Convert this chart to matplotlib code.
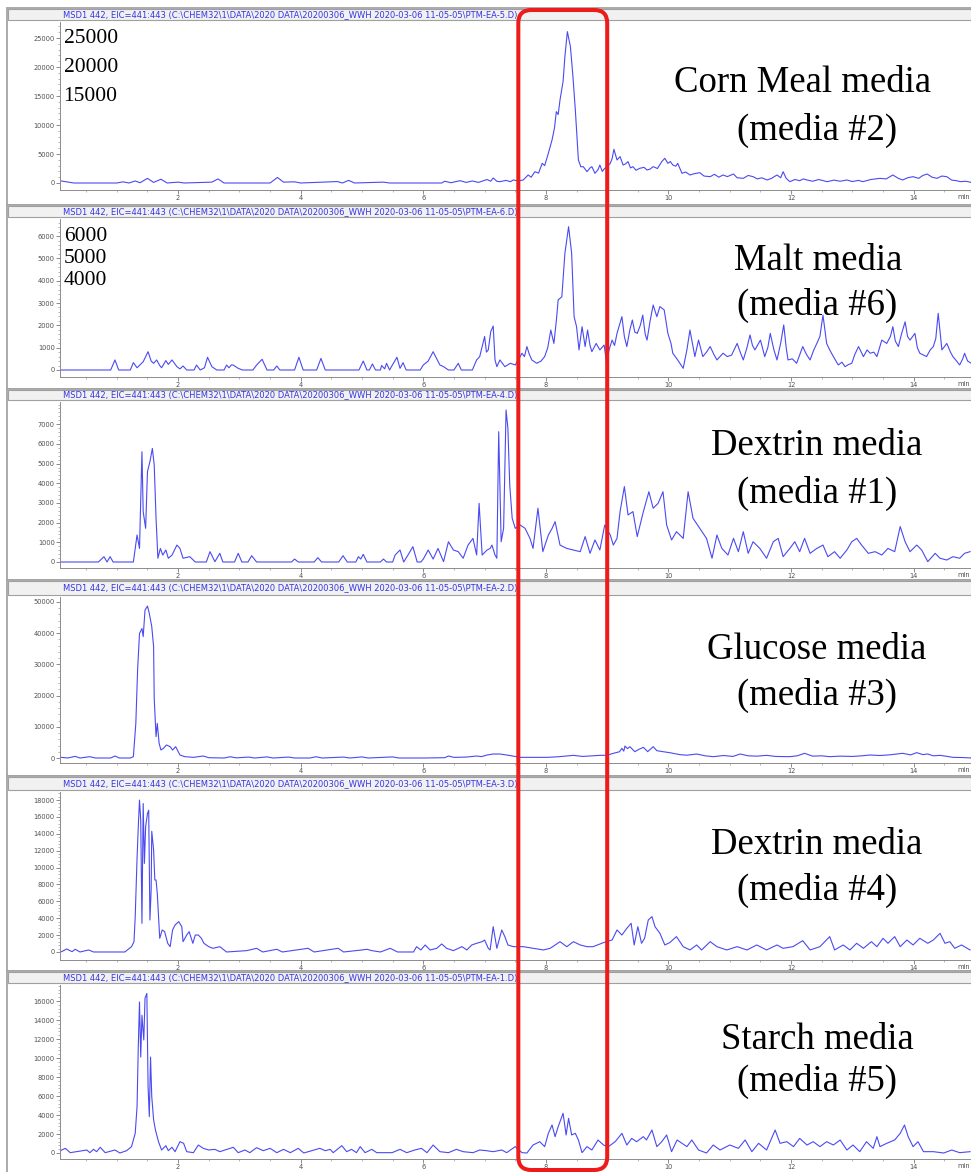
import numpy as np
import matplotlib
matplotlib.use("Agg")
import matplotlib.pyplot as plt
from matplotlib.patches import Rectangle, FancyBboxPatch
from matplotlib.transforms import blended_transform_factory, IdentityTransform

W, H = 971, 1172

# extracted ion chromatograms, (retention time [min], abundance)
corn_meal = [
    (0.07, 400), (0.15, 250), (0.3, 0), (1.0, 0), (1.1, 200), (1.2, 0), (1.3, 350), (1.38, 50),
    (1.5, 800), (1.6, 100), (1.72, 650), (1.82, 0), (2.0, 150), (2.1, 0), (2.55, 150), (2.65, 700),
    (2.75, 0), (3.5, 0), (3.62, 950), (3.72, 150), (3.9, 200), (4.0, 0), (4.6, 250), (4.68, 0),
    (4.78, 450), (4.88, 0), (5.35, 150), (5.45, 0), (6.3, 0), (6.35, 300), (6.45, 50), (6.6, 400),
    (6.7, 100), (6.8, 350), (6.9, 100), (7.04, 600), (7.1, 300), (7.14, 860), (7.2, 300), (7.25, 230),
    (7.35, 450), (7.42, 230), (7.47, 520), (7.55, 350), (7.63, 520), (7.71, 1380), (7.76, 1000),
    (7.82, 1950), (7.88, 1700), (7.94, 3390), (7.98, 3000), (8.04, 5120), (8.1, 7420), (8.14, 9500),
    (8.17, 12300), (8.2, 11800), (8.23, 14300), (8.28, 17500), (8.31, 21800), (8.35, 26100),
    (8.4, 23500), (8.44, 18500), (8.48, 12600), (8.53, 3970), (8.57, 2800), (8.61, 2820), (8.67, 1950),
    (8.72, 2600), (8.75, 2820), (8.8, 1670), (8.85, 2300), (8.88, 3100), (8.92, 2000), (8.96, 2530),
    (9.0, 2800), (9.05, 3390), (9.08, 4200), (9.11, 5810), (9.16, 3970), (9.21, 4540), (9.26, 3100),
    (9.3, 3300), (9.34, 3680), (9.38, 2600), (9.42, 2820), (9.47, 2200), (9.53, 2530), (9.6, 2700),
    (9.65, 2240), (9.7, 2400), (9.75, 2820), (9.82, 2500), (9.89, 3680), (9.94, 4260), (9.99, 3390),
    (10.03, 3700), (10.07, 3100), (10.12, 2900), (10.15, 3390), (10.22, 1670), (10.28, 1900),
    (10.35, 1380), (10.42, 1600), (10.51, 1780), (10.58, 1200), (10.68, 1090), (10.75, 1500),
    (10.82, 1000), (10.89, 1380), (10.96, 1100), (11.06, 1550), (11.12, 900), (11.22, 805),
    (11.3, 1300), (11.38, 1090), (11.45, 700), (11.52, 900), (11.61, 520), (11.68, 800), (11.77, 1380),
    (11.83, 900), (11.87, 1950), (11.92, 800), (11.98, 230), (12.06, 600), (12.14, 400), (12.2, 700),
    (12.26, 520), (12.35, 300), (12.45, 600), (12.59, 230), (12.7, 500), (12.8, 300), (12.91, 520),
    (13.0, 250), (13.1, 450), (13.17, 230), (13.3, 600), (13.45, 805), (13.55, 700), (13.66, 1380),
    (13.75, 800), (13.82, 520), (13.9, 900), (13.99, 1090), (14.08, 800), (14.15, 1300), (14.22, 1550),
    (14.3, 1000), (14.38, 805), (14.46, 1200), (14.54, 1090), (14.62, 500), (14.7, 400), (14.76, 230),
    (14.85, 300), (14.94, 100),
]

malt = [
    (0.07, 0), (0.9, 0), (0.97, 450), (1.03, 0), (1.22, 0), (1.27, 330), (1.33, 100), (1.43, 370),
    (1.51, 820), (1.56, 400), (1.6, 300), (1.65, 450), (1.7, 200), (1.73, 100), (1.8, 420), (1.84, 250),
    (1.9, 450), (1.98, 150), (2.03, 50), (2.08, 180), (2.14, 0), (2.26, 0), (2.3, 220), (2.36, 0),
    (2.43, 100), (2.48, 570), (2.55, 150), (2.63, 0), (2.75, 0), (2.79, 220), (2.83, 100), (2.87, 230),
    (2.9, 220), (2.98, 75), (3.05, 0), (3.22, 0), (3.28, 220), (3.37, 480), (3.45, 0), (3.56, 0),
    (3.61, 180), (3.66, 0), (3.9, 0), (3.97, 570), (4.04, 0), (4.26, 0), (4.33, 520), (4.4, 0),
    (4.95, 0), (5.02, 400), (5.08, 0), (5.12, 0), (5.17, 270), (5.22, 0), (5.3, 0), (5.32, 200),
    (5.37, 50), (5.4, 300), (5.45, 0), (5.48, 150), (5.57, 570), (5.62, 75), (5.67, 330), (5.72, 0),
    (5.95, 0), (6.0, 225), (6.08, 400), (6.16, 820), (6.22, 500), (6.27, 225), (6.33, 150), (6.41, 0),
    (6.5, 0), (6.57, 300), (6.62, 0), (6.8, 0), (6.87, 450), (6.92, 600), (7.0, 1500), (7.03, 800),
    (7.06, 900), (7.1, 1720), (7.14, 1970), (7.17, 450), (7.2, 150), (7.25, 450), (7.33, 150),
    (7.42, 300), (7.5, 225), (7.56, 500), (7.61, 750), (7.65, 600), (7.69, 1050), (7.73, 700),
    (7.77, 450), (7.85, 300), (7.92, 400), (7.98, 600), (8.03, 1000), (8.08, 1790), (8.13, 1190),
    (8.17, 2200), (8.2, 3140), (8.26, 3280), (8.31, 5230), (8.37, 6420), (8.42, 5230), (8.46, 2390),
    (8.5, 1940), (8.54, 900), (8.59, 1940), (8.64, 1050), (8.68, 1790), (8.72, 1100), (8.75, 820),
    (8.82, 1190), (8.88, 900), (8.95, 1120), (8.99, 300), (9.03, 900), (9.08, 1340), (9.12, 1100),
    (9.16, 1640), (9.24, 2390), (9.28, 1500), (9.32, 1050), (9.37, 1800), (9.41, 2240), (9.45, 1700),
    (9.49, 1640), (9.54, 2000), (9.58, 2460), (9.62, 1600), (9.65, 1340), (9.7, 2200), (9.75, 2910),
    (9.81, 2390), (9.86, 2840), (9.93, 2690), (9.99, 1640), (10.04, 1200), (10.07, 750), (10.15, 450),
    (10.24, 75), (10.3, 900), (10.35, 1790), (10.43, 600), (10.49, 1340), (10.56, 600), (10.62, 800),
    (10.68, 1050), (10.74, 700), (10.79, 450), (10.89, 750), (10.96, 600), (11.03, 670), (11.12, 1190),
    (11.17, 800), (11.22, 450), (11.28, 1000), (11.33, 1570), (11.37, 1100), (11.41, 900), (11.5, 1340),
    (11.57, 600), (11.62, 1000), (11.66, 1640), (11.72, 900), (11.77, 450), (11.83, 1200), (11.88, 2020),
    (11.92, 1000), (11.95, 450), (12.02, 500), (12.09, 300), (12.19, 1050), (12.25, 700), (12.31, 450),
    (12.37, 900), (12.42, 1190), (12.47, 1500), (12.52, 2460), (12.58, 1190), (12.63, 900), (12.69, 600),
    (12.77, 225), (12.83, 350), (12.88, 150), (12.94, 250), (12.99, 300), (13.04, 700), (13.1, 1050),
    (13.18, 600), (13.24, 900), (13.29, 750), (13.35, 800), (13.4, 600), (13.48, 1340), (13.56, 1190),
    (13.62, 1500), (13.66, 1940), (13.7, 1300), (13.75, 1050), (13.8, 1600), (13.86, 2160), (13.9, 1500),
    (13.94, 1340), (14.02, 1640), (14.06, 1000), (14.1, 750), (14.21, 600), (14.27, 900), (14.32, 1050),
    (14.36, 1400), (14.4, 2540), (14.46, 900), (14.54, 1190), (14.6, 800), (14.64, 600), (14.7, 400),
    (14.75, 225), (14.8, 500), (14.83, 750), (14.88, 400), (14.94, 300),
]

dextrin_1 = [
    (0.07, 0), (0.7, 0), (0.79, 270), (0.84, 0), (0.89, 270), (0.94, 0), (1.27, 0), (1.33, 1370),
    (1.37, 690), (1.41, 5600), (1.43, 2560), (1.47, 1710), (1.5, 4590), (1.54, 5100), (1.58, 5770),
    (1.61, 4930), (1.64, 2220), (1.67, 190), (1.71, 690), (1.75, 350), (1.8, 610), (1.84, 190),
    (1.9, 350), (1.98, 860), (2.03, 690), (2.08, 190), (2.19, 270), (2.28, 0), (2.46, 0), (2.52, 525),
    (2.6, 17), (2.68, 440), (2.73, 0), (2.92, 0), (2.98, 440), (3.04, 0), (3.14, 0), (3.2, 320),
    (3.28, 0), (3.85, 0), (3.9, 150), (3.96, 0), (4.22, 0), (4.28, 220), (4.34, 0), (4.62, 0),
    (4.69, 320), (4.76, 0), (4.9, 0), (4.94, 270), (4.98, 150), (5.02, 390), (5.08, 0), (5.3, 0),
    (5.35, 150), (5.4, 0), (5.5, 0), (5.54, 355), (5.62, 610), (5.68, 0), (5.75, 355), (5.83, 780),
    (5.9, 0), (5.96, 0), (6.0, 150), (6.08, 610), (6.16, 150), (6.24, 690), (6.33, 17), (6.41, 1030),
    (6.49, 610), (6.57, 525), (6.65, 190), (6.73, 860), (6.81, 1200), (6.87, 355), (6.91, 2980),
    (6.96, 355), (7.04, 610), (7.09, 690), (7.12, 860), (7.17, 355), (7.2, 190), (7.23, 6620),
    (7.27, 1030), (7.31, 1710), (7.35, 7720), (7.38, 6790), (7.41, 3910), (7.45, 2220), (7.5, 1710),
    (7.58, 1880), (7.66, 1710), (7.74, 1200), (7.79, 690), (7.87, 2730), (7.95, 525), (8.04, 1370),
    (8.1, 1700), (8.15, 2050), (8.23, 860), (8.34, 690), (8.45, 610), (8.56, 525), (8.64, 1290),
    (8.72, 440), (8.8, 1120), (8.88, 610), (8.96, 1880), (9.05, 1370), (9.1, 860), (9.16, 1200),
    (9.21, 2560), (9.28, 3830), (9.34, 2390), (9.42, 2560), (9.49, 1290), (9.59, 2560), (9.68, 3570),
    (9.75, 2730), (9.83, 2980), (9.91, 3570), (9.97, 1880), (10.05, 1120), (10.13, 1540), (10.24, 1200),
    (10.32, 3570), (10.4, 2220), (10.51, 1710), (10.62, 1200), (10.71, 190), (10.79, 1370), (10.87, 690),
    (10.97, 355), (11.06, 1200), (11.14, 525), (11.22, 1540), (11.3, 440), (11.38, 1030), (11.49, 690),
    (11.6, 190), (11.71, 1030), (11.79, 1200), (11.87, 270), (11.98, 690), (12.06, 1030), (12.14, 525),
    (12.22, 1200), (12.31, 440), (12.42, 690), (12.52, 860), (12.6, 270), (12.71, 525), (12.8, 190),
    (12.91, 610), (12.99, 1030), (13.07, 1200), (13.15, 860), (13.26, 440), (13.37, 525), (13.48, 355),
    (13.58, 690), (13.69, 525), (13.78, 1800), (13.86, 1030), (13.94, 525), (14.05, 860), (14.13, 610),
    (14.23, 17), (14.35, 440), (14.43, 190), (14.54, 100), (14.64, 270), (14.75, 190), (14.83, 440),
    (14.92, 525),
]

glucose = [
    (0.07, 100), (0.1, 210), (0.2, 0), (0.32, 530), (0.4, 0), (0.56, 430), (0.65, 0), (0.9, 0),
    (0.97, 640), (1.04, 0), (1.22, 0), (1.27, 430), (1.31, 11100), (1.34, 28700), (1.37, 39900),
    (1.41, 41500), (1.43, 38900), (1.46, 47400), (1.5, 48700), (1.53, 46300), (1.57, 42100),
    (1.6, 35700), (1.61, 19100), (1.64, 6840), (1.66, 11100), (1.69, 4700), (1.72, 2560), (1.76, 3100),
    (1.81, 4170), (1.87, 3630), (1.91, 2560), (1.96, 3630), (2.03, 960), (2.11, 430), (2.25, 210),
    (2.41, 640), (2.5, 100), (2.75, 0), (2.85, 400), (2.95, 50), (3.15, 300), (3.25, 0), (3.45, 350),
    (3.55, 0), (3.8, 300), (3.9, 0), (4.15, 0), (4.25, 400), (4.35, 0), (4.7, 300), (4.8, 0),
    (5.0, 350), (5.1, 0), (5.5, 350), (5.6, 0), (6.0, 0), (6.35, 100), (6.41, 640), (6.5, 200),
    (6.7, 300), (6.87, 640), (6.95, 450), (7.04, 960), (7.14, 1280), (7.25, 1280), (7.36, 960),
    (7.47, 600), (7.58, 210), (8.02, 210), (8.2, 400), (8.45, 850), (8.6, 500), (8.88, 850), (9.0, 900),
    (9.1, 1500), (9.2, 2000), (9.24, 3100), (9.27, 2200), (9.29, 3840), (9.33, 3000), (9.37, 3630),
    (9.45, 2030), (9.52, 2800), (9.59, 3420), (9.66, 2030), (9.75, 3630), (9.81, 2350), (9.91, 2030),
    (10.02, 1710), (10.1, 1400), (10.19, 1070), (10.3, 900), (10.46, 1280), (10.6, 700), (10.73, 430),
    (10.9, 800), (11.05, 500), (11.17, 1280), (11.3, 700), (11.45, 600), (11.6, 850), (11.75, 500),
    (11.98, 430), (12.1, 700), (12.22, 1500), (12.35, 600), (12.5, 700), (12.63, 430), (12.8, 600),
    (13.0, 500), (13.15, 700), (13.29, 960), (13.45, 800), (13.6, 1000), (13.82, 1500), (13.95, 1000),
    (14.05, 1710), (14.15, 1100), (14.23, 1280), (14.32, 700), (14.43, 850), (14.55, 500), (14.64, 210),
    (14.8, 150), (14.94, 0),
]

dextrin_4 = [
    (0.07, 40), (0.1, 40), (0.18, 355), (0.27, 40), (0.32, 320), (0.4, 0), (0.54, 240), (0.62, 0),
    (1.13, 0), (1.24, 630), (1.28, 1220), (1.3, 4190), (1.33, 11100), (1.35, 14850), (1.37, 18000),
    (1.39, 15600), (1.41, 3400), (1.43, 17600), (1.45, 10500), (1.47, 14850), (1.5, 16400),
    (1.52, 16800), (1.54, 3790), (1.56, 7350), (1.57, 14300), (1.6, 12100), (1.62, 8530), (1.64, 8530),
    (1.66, 6950), (1.68, 4190), (1.7, 1620), (1.74, 2610), (1.78, 2410), (1.83, 1030), (1.87, 630),
    (1.91, 2610), (1.95, 3200), (2.01, 3600), (2.06, 3000), (2.08, 1220), (2.14, 2010), (2.18, 2410),
    (2.24, 1030), (2.28, 2010), (2.33, 2010), (2.38, 1620), (2.42, 1030), (2.5, 630), (2.57, 435),
    (2.68, 630), (2.79, 0), (3.12, 160), (3.28, 435), (3.38, 0), (3.61, 320), (3.7, 0), (4.12, 435),
    (4.22, 0), (4.61, 435), (4.7, 0), (5.0, 240), (5.08, 320), (5.16, 160), (5.3, 0), (5.46, 435),
    (5.58, 0), (5.84, 0), (5.89, 630), (5.96, 240), (6.03, 830), (6.11, 240), (6.22, 435), (6.3, 950),
    (6.38, 435), (6.49, 160), (6.63, 630), (6.71, 240), (6.79, 830), (6.87, 1030), (6.96, 1220),
    (7.0, 1420), (7.06, 435), (7.09, 240), (7.14, 3000), (7.2, 435), (7.28, 2610), (7.33, 1820),
    (7.38, 830), (7.47, 630), (7.63, 630), (7.79, 435), (7.96, 240), (8.07, 435), (8.23, 1220),
    (8.34, 630), (8.45, 1220), (8.56, 830), (8.67, 630), (8.77, 630), (8.94, 1110), (9.08, 1420),
    (9.16, 2610), (9.24, 2010), (9.32, 2800), (9.39, 3400), (9.44, 830), (9.5, 3000), (9.56, 1030),
    (9.61, 1620), (9.67, 3790), (9.73, 4190), (9.78, 3000), (9.86, 2210), (9.94, 830), (10.02, 1110),
    (10.13, 1820), (10.24, 630), (10.35, 240), (10.46, 830), (10.54, 240), (10.68, 1220), (10.79, 630),
    (10.95, 240), (11.12, 630), (11.28, 240), (11.44, 830), (11.6, 240), (11.77, 830), (11.87, 435),
    (12.03, 630), (12.19, 1340), (12.31, 240), (12.47, 630), (12.63, 1820), (12.71, 240), (12.85, 830),
    (12.96, 240), (13.07, 1030), (13.18, 435), (13.31, 1220), (13.4, 630), (13.5, 1620), (13.58, 1030),
    (13.69, 1820), (13.78, 630), (13.89, 1420), (13.99, 830), (14.1, 1620), (14.23, 1030), (14.32, 1420),
    (14.43, 2210), (14.51, 1030), (14.59, 1220), (14.67, 435), (14.78, 830), (14.92, 240),
]

starch = [
    (0.07, 150), (0.1, 315), (0.16, 490), (0.24, 35), (0.51, 315), (0.56, 35), (0.62, 385), (0.67, 140),
    (0.73, 600), (0.81, 35), (0.97, 315), (1.05, 0), (1.16, 245), (1.24, 670), (1.3, 2070), (1.33, 4880),
    (1.35, 11200), (1.37, 15900), (1.39, 10100), (1.41, 14500), (1.44, 11900), (1.46, 16300),
    (1.49, 16800), (1.51, 6980), (1.53, 3830), (1.55, 10100), (1.57, 5930), (1.6, 3500), (1.63, 2420),
    (1.68, 1190), (1.73, 315), (1.8, 770), (1.84, 245), (1.9, 600), (1.95, 140), (2.03, 1190),
    (2.09, 1020), (2.14, 140), (2.25, 35), (2.33, 840), (2.41, 490), (2.5, 315), (2.6, 385), (2.68, 140),
    (2.9, 600), (2.98, 35), (3.09, 315), (3.17, 35), (3.28, 560), (3.39, 245), (3.5, 490), (3.61, 35),
    (3.72, 385), (3.83, 35), (3.96, 490), (4.05, 0), (4.31, 490), (4.4, 245), (4.48, 385), (4.53, 35),
    (4.67, 770), (4.75, 140), (4.83, 385), (4.91, 35), (4.97, 670), (5.05, 35), (5.16, 385), (5.24, 35),
    (5.49, 35), (5.62, 385), (5.73, 35), (5.86, 315), (5.97, 490), (6.06, 35), (6.16, 840), (6.27, 140),
    (6.41, 35), (6.54, 385), (6.65, 140), (6.81, 35), (6.92, 315), (7.03, 245), (7.14, 140), (7.28, 315),
    (7.36, 35), (7.5, 670), (7.61, 35), (7.69, 0), (7.79, 840), (7.9, 1190), (7.98, 670), (8.04, 2070),
    (8.1, 2950), (8.15, 1720), (8.2, 2770), (8.28, 4180), (8.33, 1900), (8.37, 3650), (8.42, 1900),
    (8.48, 2070), (8.53, 1370), (8.59, 35), (8.67, 670), (8.75, 315), (8.85, 1370), (8.94, 840),
    (9.02, 670), (9.13, 1190), (9.24, 2070), (9.32, 840), (9.4, 1540), (9.48, 1190), (9.59, 1720),
    (9.64, 1370), (9.73, 2420), (9.81, 670), (9.89, 1190), (9.97, 1900), (10.05, 140), (10.14, 1370),
    (10.22, 1020), (10.3, 670), (10.38, 1370), (10.49, 315), (10.62, 0), (10.73, 840), (10.84, 315),
    (11.0, 840), (11.14, 490), (11.25, 1370), (11.36, 140), (11.47, 1020), (11.6, 315), (11.74, 2420),
    (11.82, 1020), (11.93, 1190), (12.04, 670), (12.14, 1540), (12.26, 840), (12.36, 1190), (12.47, 670),
    (12.58, 1190), (12.69, 840), (12.8, 1370), (12.91, 315), (13.01, 840), (13.12, 140), (13.23, 1190),
    (13.34, 490), (13.4, 1720), (13.45, 670), (13.56, 1020), (13.69, 1370), (13.78, 2070), (13.85, 2950),
    (13.91, 1720), (13.99, 670), (14.07, 1190), (14.16, 140), (14.32, 140), (14.49, 0), (14.62, 315),
    (14.75, 35), (14.92, 140),
]

traces = [corn_meal, malt, dextrin_1, glucose, dextrin_4, starch]
media_names = ["Corn Meal media", "Malt media", "Dextrin media", "Glucose media", "Dextrin media", "Starch media"]
media_ids = ["(media #2)", "(media #6)", "(media #1)", "(media #3)", "(media #4)", "(media #5)"]
data_files = ["PTM-EA-5", "PTM-EA-6", "PTM-EA-4", "PTM-EA-2", "PTM-EA-3", "PTM-EA-1"]
y_steps = [5000, 1000, 1000, 10000, 2000, 2000]
y_max_tick = [25000, 6000, 7000, 50000, 18000, 16000]
y_limits = [(-1207, 27760), (-314, 6765), (-305, 8128), (-1600, 51600), (-950, 18960), (-632, 17690)]
typed_values = [[25000, 20000, 15000], [6000, 5000, 4000], [], [], [], []]
x_limits = (0.073, 14.935)
window = (7.55, 9.0)  # retention window boxed in red

# panel geometry in pixels: frame top, axes top, axes bottom, frame bottom
panels_px = [(8, 22, 190, 205), (205, 219, 377, 389), (389, 402, 568, 580),
             (580, 597, 763, 776), (776, 792, 960, 971), (971, 985, 1159, 1190)]
ax_left_px = 60
# centre of each label line (x of first line, y of both lines)
name_x_px = [803, 818, 817, 817, 817, 817]
name_y_px = [(83, 130), (261, 305), (446, 493), (650, 695), (845, 890), (1040, 1081)]

header = "MSD1 442, EIC=441:443 (C:\\CHEM32\\1\\DATA\\2020 DATA\\20200306_WWH 2020-03-06 11-05-05\\{}.D)"

fig = plt.figure(figsize=(W / 100, H / 100), dpi=100, facecolor="white")


def fx(px):
    return px / W


def fy(py):
    return 1 - py / H


axes = []
for k, (ftop, atop, abot, fbot) in enumerate(panels_px):
    # window frame and title strip, kept behind the axes
    fig.add_artist(Rectangle((fx(7), fy(fbot)), fx(W + 10 - 7), (fbot - ftop) / H,
                             transform=fig.transFigure, fc="white", ec="#a4a4a4", lw=1.3, zorder=-3))
    fig.add_artist(Rectangle((fx(8), fy(atop - 2)), fx(W + 10 - 8), (atop - 3 - ftop) / H,
                             transform=fig.transFigure, fc="#f1f1f1", ec="#a0a0a0", lw=0.8, zorder=-2))
    fig.text(fx(63), fy((ftop + atop) / 2 - 0.5), header.format(data_files[k]), fontsize=6.0,
             color="#3535e6", ha="left", va="center", family="DejaVu Sans")

    ax = fig.add_axes([fx(ax_left_px), fy(abot), (W - ax_left_px) / W, (abot - atop) / H])
    t, a = np.array(traces[k]).T
    ax.plot(t, a, color="#4a4af2", lw=0.8)
    ax.set_xlim(*x_limits)
    ax.set_ylim(*y_limits[k])

    ax.set_xticks(np.arange(2, 15, 2))
    ax.set_xticks(np.arange(0.5, 15, 0.5), minor=True)
    ax.set_yticks(np.arange(0, y_max_tick[k] + 1, y_steps[k]))
    ax.set_yticks(np.arange(0, y_limits[k][1], y_steps[k] / 5), minor=True)
    ax.tick_params(which="major", length=2.6, width=0.6, color="#7a7a7a", labelsize=4.8,
                   labelcolor="#505050", pad=1.2)
    ax.tick_params(which="minor", length=1.4, width=0.5, color="#9a9a9a")
    for s in ("top", "right"):
        ax.spines[s].set_visible(False)
    for s in ("left", "bottom"):
        ax.spines[s].set_color("#8c8c8c")
        ax.spines[s].set_linewidth(0.7)

    fig.text(fx(957), fy(abot + 7), "min", fontsize=4.8, color="#505050", ha="left", va="center")

    # large serif numbers typed over the intensity scale
    tr = blended_transform_factory(ax.transAxes, ax.transData)
    for v in typed_values[k]:
        ax.text(0.004, v, f"{v}", transform=tr, fontsize=15.5, family="Liberation Serif",
                color="black", ha="left", va="center")

    y1, y2 = name_y_px[k]
    fig.text(fx(name_x_px[k]), fy(y1), media_names[k], fontsize=26.5,
             family="Liberation Serif", ha="center", va="center")
    fig.text(fx(817), fy(y2), media_ids[k], fontsize=26.5,
             family="Liberation Serif", ha="center", va="center")
    axes.append(ax)

# red rounded box around the retention window, across all traces
x0 = axes[0].transData.transform((window[0], 0))[0]
x1 = axes[0].transData.transform((window[1], 0))[0]
y_top = H - 10
y_bot = 2
fig.add_artist(FancyBboxPatch((x0, y_bot), x1 - x0, y_top - y_bot,
                              boxstyle="round,pad=0,rounding_size=13", transform=IdentityTransform(),
                              fc="none", ec="#ee1b1b", lw=2.9, zorder=10))

fig.savefig("out.png", dpi=100, facecolor="white")
